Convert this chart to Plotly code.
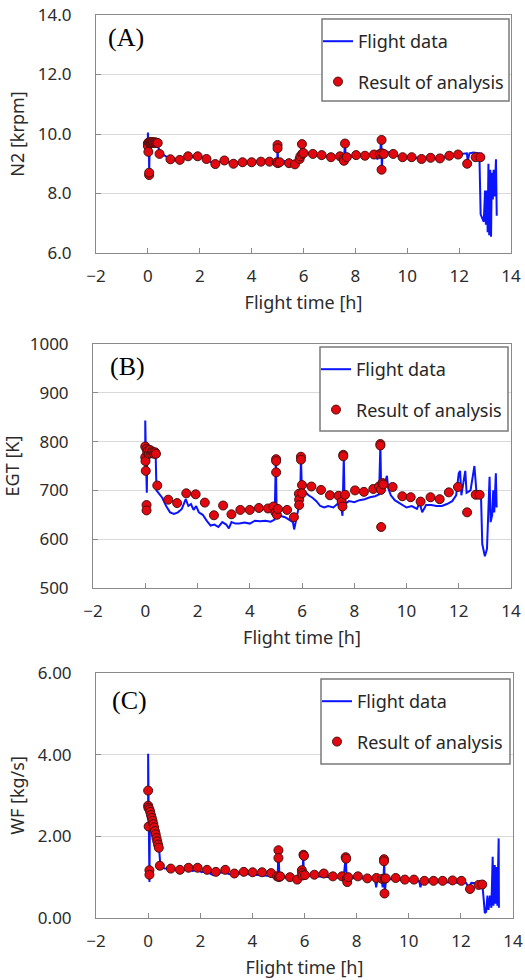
import plotly.graph_objects as go

W, H = 525, 980

# ---------------- Panel A: N2 ----------------
n2_t = [0.00, 0.00, 0.02, 0.04, 0.05, 0.07, 0.20, 0.35, 0.40, 0.50, 0.70, 0.87, 1.05, 1.22, 1.40,
        1.55, 1.75, 1.92, 2.10, 2.26, 2.45, 2.60, 2.80, 2.95, 3.10, 3.30, 3.50, 3.65, 3.85, 4.00,
        4.20, 4.36, 4.55, 4.70, 4.90, 4.99, 5.00, 5.02, 5.15, 5.30, 5.44, 5.60, 5.70, 5.80, 5.90,
        5.94, 5.97, 6.10, 6.36, 6.55, 6.72, 6.90, 7.07, 7.25, 7.42, 7.55, 7.60, 7.63, 7.80, 8.03,
        8.20, 8.38, 8.55, 8.73, 8.85, 8.95, 9.00, 9.02, 9.05, 9.20, 9.35, 9.47, 9.65, 9.83, 10.00,
        10.17, 10.35, 10.55, 10.75, 10.92, 11.10, 11.27, 11.45, 11.62, 11.80, 11.97, 12.15, 12.30, 12.33, 12.40,
        12.55, 12.70, 12.78, 12.83, 12.88, 12.95, 13.00, 13.03, 13.07, 13.10, 13.13, 13.16, 13.20, 13.23, 13.26,
        13.30, 13.33, 13.37, 13.42, 13.45]
n2_v = [9.60, 10.05, 9.70, 9.70, 8.62, 9.70, 9.72, 9.72, 9.55, 9.35, 9.25, 9.18, 9.15, 9.15, 9.20,
        9.25, 9.22, 9.25, 9.20, 9.15, 9.05, 9.00, 9.08, 9.10, 9.05, 9.02, 9.05, 9.05, 9.05, 9.06,
        9.07, 9.08, 9.08, 9.08, 9.08, 9.08, 9.60, 9.10, 9.12, 9.08, 9.05, 9.02, 8.98, 9.10, 9.25,
        9.65, 9.35, 9.38, 9.35, 9.32, 9.30, 9.25, 9.22, 9.25, 9.25, 9.10, 9.65, 9.20, 9.25, 9.28,
        9.28, 9.28, 9.30, 9.30, 9.15, 9.38, 9.80, 8.80, 9.40, 9.42, 9.35, 9.33, 9.25, 9.22, 9.22,
        9.20, 9.20, 9.15, 9.20, 9.20, 9.18, 9.18, 9.22, 9.27, 9.30, 9.32, 9.35, 9.35, 9.10, 9.35,
        9.38, 9.36, 9.35, 7.30, 7.20, 7.05, 8.10, 6.95, 8.10, 6.70, 9.00, 6.60, 8.80, 6.55, 8.70,
        7.80, 8.80, 7.90, 9.15, 7.25]

n2_res_t = [0.00, 0.00, 0.02, 0.03, 0.05, 0.05, 0.06, 0.09, 0.12, 0.15, 0.18, 0.21, 0.25, 0.29, 0.33,
            0.38, 0.45, 0.87, 1.23, 1.55, 1.92, 2.26, 2.60, 2.95, 3.30, 3.65, 4.00, 4.36, 4.69, 4.97,
            5.00, 5.00, 5.01, 5.08, 5.44, 5.67, 5.85, 5.88, 5.94, 5.95, 6.00, 6.36, 6.70, 7.06, 7.41,
            7.54, 7.56, 7.60, 7.67, 8.03, 8.37, 8.72, 8.95, 9.01, 9.01, 9.03, 9.10, 9.46, 9.82, 10.17,
            10.55, 10.90, 11.26, 11.62, 11.96, 12.31, 12.64, 12.82]
n2_res = [9.68, 9.60, 9.40, 9.72, 8.62, 8.70, 9.70, 9.72, 9.70, 9.73, 9.70, 9.72, 9.71, 9.72, 9.70,
          9.70, 9.33, 9.15, 9.13, 9.25, 9.25, 9.16, 8.99, 9.11, 9.00, 9.05, 9.05, 9.07, 9.07, 9.05,
          9.63, 9.52, 9.02, 9.05, 9.02, 8.98, 9.16, 9.25, 9.66, 9.33, 9.36, 9.33, 9.29, 9.22, 9.25,
          9.16, 9.10, 9.68, 9.22, 9.29, 9.27, 9.31, 9.33, 9.80, 8.80, 9.35, 9.33, 9.33, 9.22, 9.22,
          9.16, 9.20, 9.18, 9.27, 9.31, 9.00, 9.22, 9.22]

# ---------------- Panel B: EGT ----------------
egt_t = [0.00, 0.00, 0.03, 0.06, 0.08, 0.20, 0.35, 0.40, 0.43, 0.50, 0.65, 0.80, 0.95, 1.10, 1.25,
         1.40, 1.50, 1.55, 1.65, 1.75, 1.85, 1.95, 2.05, 2.20, 2.35, 2.50, 2.65, 2.80, 2.95, 3.10,
         3.20, 3.30, 3.45, 3.60, 3.80, 4.00, 4.20, 4.40, 4.60, 4.80, 4.95, 5.00, 5.03, 5.20, 5.35,
         5.50, 5.65, 5.70, 5.78, 5.85, 5.93, 5.96, 6.00, 6.10, 6.25, 6.40, 6.55, 6.70, 6.85, 7.00,
         7.20, 7.35, 7.50, 7.55, 7.60, 7.63, 7.80, 8.00, 8.20, 8.40, 8.60, 8.80, 8.95, 9.00, 9.03,
         9.15, 9.25, 9.30, 9.40, 9.55, 9.70, 9.85, 10.00, 10.20, 10.40, 10.50, 10.60, 10.75, 10.95, 11.15,
         11.35, 11.55, 11.75, 11.90, 12.00, 12.05, 12.10, 12.25, 12.30, 12.45, 12.60, 12.68, 12.85, 12.90, 12.95,
         13.00, 13.08, 13.12, 13.18, 13.22, 13.28, 13.32, 13.36, 13.42, 13.45]
egt_v = [775, 843, 760, 695, 780, 775, 780, 770, 700, 695, 685, 668, 655, 652, 655,
         662, 675, 682, 668, 672, 660, 668, 655, 650, 638, 628, 630, 625, 635, 630,
         622, 635, 632, 632, 634, 632, 638, 637, 638, 636, 640, 765, 650, 648, 645,
         640, 635, 620, 640, 660, 680, 770, 690, 698, 690, 685, 678, 668, 665, 668,
         665, 672, 665, 648, 770, 672, 678, 676, 680, 682, 686, 688, 692, 795, 700,
         710, 730, 705, 690, 680, 675, 670, 665, 668, 662, 675, 655, 670, 670, 668,
         668, 672, 678, 690, 735, 740, 690, 740, 695, 700, 750, 695, 693, 590, 580,
         565, 580, 640, 728, 635, 650, 700, 655, 735, 665]

egt_res_t = [0.00, 0.00, 0.01, 0.02, 0.05, 0.05, 0.05, 0.08, 0.11, 0.14, 0.18, 0.22, 0.26, 0.30, 0.34,
             0.38, 0.41, 0.46, 0.88, 1.22, 1.57, 1.93, 2.28, 2.63, 2.98, 3.30, 3.64, 4.00, 4.35, 4.70,
             4.91, 4.98, 5.01, 5.01, 5.01, 5.04, 5.08, 5.43, 5.69, 5.88, 5.89, 5.89, 5.96, 5.96, 6.00,
             6.00, 6.36, 6.73, 7.07, 7.40, 7.52, 7.55, 7.58, 7.58, 7.65, 8.03, 8.37, 8.73, 8.95, 9.00,
             9.00, 9.02, 9.03, 9.08, 9.11, 9.47, 9.84, 10.16, 10.54, 10.92, 11.27, 11.62, 11.97, 12.32, 12.65,
             12.80]
egt_res = [790, 768, 760, 740, 670, 659, 785, 778, 782, 775, 783, 776, 780, 778, 775,
           778, 775, 710, 681, 674, 694, 692, 675, 649, 669, 651, 660, 660, 664, 663,
           667, 655, 764, 760, 737, 650, 662, 660, 645, 693, 681, 670, 769, 763, 711,
           694, 708, 701, 690, 689, 677, 667, 773, 770, 691, 700, 697, 703, 708, 795,
           792, 701, 625, 715, 712, 707, 688, 686, 677, 686, 682, 696, 707, 655, 691,
           691]

# ---------------- Panel C: WF ----------------
wf_t = [0.00, 0.00, 0.02, 0.05, 0.07, 0.15, 0.25, 0.35, 0.42, 0.47, 0.60, 0.87, 1.00, 1.22, 1.40,
        1.55, 1.70, 1.92, 2.05, 2.20, 2.40, 2.50, 2.65, 2.95, 3.10, 3.30, 3.50, 3.70, 4.00, 4.20,
        4.40, 4.60, 4.80, 4.97, 5.00, 5.04, 5.20, 5.44, 5.60, 5.72, 5.85, 5.93, 5.95, 5.98, 6.20,
        6.40, 6.70, 7.00, 7.30, 7.50, 7.58, 7.62, 7.80, 8.05, 8.40, 8.70, 8.75, 8.80, 8.95, 9.00,
        9.03, 9.06, 9.08, 9.13, 9.50, 9.85, 10.20, 10.40, 10.45, 10.50, 10.80, 11.20, 11.60, 12.00, 12.20,
        12.30, 12.40, 12.60, 12.82, 12.87, 12.92, 12.97, 13.02, 13.06, 13.12, 13.17, 13.22, 13.25, 13.30, 13.33,
        13.37, 13.40, 13.45, 13.46]
wf_v = [2.70, 4.02, 2.70, 0.88, 2.60, 2.45, 2.20, 1.90, 1.70, 1.30, 1.22, 1.20, 1.18, 1.17, 1.18,
        1.20, 1.15, 1.18, 1.12, 1.15, 1.08, 1.05, 1.10, 1.12, 1.08, 1.07, 1.09, 1.08, 1.07, 1.06,
        1.05, 1.04, 1.02, 1.00, 1.66, 1.00, 1.00, 0.98, 0.96, 0.93, 1.02, 1.05, 1.55, 1.03, 1.04,
        1.02, 1.01, 1.00, 0.99, 0.98, 1.49, 0.97, 0.98, 0.98, 0.97, 0.95, 0.75, 0.96, 0.95, 0.75,
        0.95, 1.44, 0.60, 0.96, 0.94, 0.92, 0.91, 0.90, 0.75, 0.90, 0.89, 0.88, 0.88, 0.87, 0.86,
        0.75, 0.86, 0.85, 0.85, 0.50, 0.12, 0.15, 0.55, 0.20, 0.55, 0.25, 1.50, 0.30, 1.30, 0.35,
        1.25, 0.30, 1.95, 0.25]

wf_res_t = [0.00, 0.00, 0.01, 0.02, 0.05, 0.05, 0.05, 0.08, 0.11, 0.14, 0.17, 0.20, 0.23, 0.26, 0.29,
            0.32, 0.35, 0.38, 0.41, 0.45, 0.87, 1.22, 1.55, 1.90, 2.26, 2.60, 2.96, 3.31, 3.67, 4.01,
            4.37, 4.72, 4.95, 5.00, 5.00, 5.02, 5.07, 5.44, 5.72, 5.90, 5.91, 5.92, 5.96, 5.98, 6.02,
            6.38, 6.74, 7.09, 7.44, 7.58, 7.60, 7.62, 7.64, 7.68, 8.05, 8.41, 8.76, 8.98, 9.05, 9.05,
            9.07, 9.08, 9.12, 9.50, 9.85, 10.20, 10.60, 10.95, 11.30, 11.68, 12.02, 12.35, 12.68, 12.82]
wf_res = [3.12, 2.75, 2.70, 2.24, 1.17, 1.06, 2.66, 2.60, 2.52, 2.45, 2.38, 2.30, 2.22, 2.13, 2.05,
          1.96, 1.88, 1.80, 1.72, 1.28, 1.21, 1.18, 1.23, 1.23, 1.18, 1.13, 1.18, 1.09, 1.13, 1.12,
          1.12, 1.10, 1.02, 1.66, 1.47, 1.00, 1.02, 1.00, 0.94, 1.17, 1.10, 1.04, 1.55, 1.52, 1.05,
          1.06, 1.09, 1.02, 1.02, 1.49, 1.45, 0.96, 0.88, 1.00, 1.02, 0.97, 0.98, 0.96, 1.44, 1.39,
          0.60, 0.96, 0.97, 0.98, 0.94, 0.94, 0.91, 0.91, 0.91, 0.92, 0.91, 0.71, 0.81, 0.82]

x_ticks = [-2, 0, 2, 4, 6, 8, 10, 12, 14]

LINE_BLUE = "#0a14ff"
DOT_RED = "#e3070f"
TICK_FONT = dict(family="Noto Sans", size=17, color="#2b2b2b")
TITLE_FONT = dict(family="Noto Sans", size=18, color="#2b2b2b")


def px_x(v):
    return v / W


def px_y(v):
    return 1 - v / H


panels = [
    dict(t=n2_t, v=n2_v, rt=n2_res_t, rv=n2_res, ytitle="N2 [krpm]", yrange=[6, 14],
         yticks=[6, 8, 10, 12, 14], fmt=".1f", label="(A)",
         box=(96, 15, 511, 253), leg=(322, 19, 509, 101), lab=(106, 37)),
    dict(t=egt_t, v=egt_v, rt=egt_res_t, rv=egt_res, ytitle="EGT [K]", yrange=[500, 1000],
         yticks=[500, 600, 700, 800, 900, 1000], fmt="d", label="(B)",
         box=(93, 344, 511, 588), leg=(320, 347, 508, 431), lab=(108, 367)),
    dict(t=wf_t, v=wf_v, rt=wf_res_t, rv=wf_res, ytitle="WF [kg/s]", yrange=[0, 6],
         yticks=[0, 2, 4, 6], fmt=".2f", label="(C)",
         box=(96, 673, 513, 918), leg=(321, 679, 510, 764), lab=(110, 700)),
]

fig = go.Figure()
layout = dict(width=W, height=H, margin=dict(l=0, r=0, t=0, b=0),
              paper_bgcolor="white", plot_bgcolor="white", shapes=[], annotations=[])

for i, p in enumerate(panels, start=1):
    sfx = "" if i == 1 else str(i)
    leg_name = "legend" if i == 1 else f"legend{i}"
    xa, ya = f"x{sfx}", f"y{sfx}"

    fig.add_trace(go.Scatter(
        x=p["t"], y=p["v"], mode="lines", name="Flight data",
        line=dict(color=LINE_BLUE, width=2), xaxis=xa, yaxis=ya,
        legend=leg_name, legendgroup=f"fd{i}"))
    fig.add_trace(go.Scatter(
        x=p["rt"], y=p["rv"], mode="markers", name="Result of analysis",
        marker=dict(color=DOT_RED, size=9, line=dict(color="#4a1010", width=1)),
        xaxis=xa, yaxis=ya, legend=leg_name, legendgroup=f"ra{i}"))

    l, t, r, b = p["box"]
    layout[f"xaxis{sfx}"] = dict(
        domain=[px_x(l), px_x(r)], range=[-2, 14], tickvals=x_ticks,
        anchor=ya, showline=True, mirror=True, linecolor="#8a8a8a", linewidth=1,
        showgrid=False, zeroline=False, ticks="inside", ticklen=5, tickcolor="#8a8a8a",
        tickfont=TICK_FONT, ticklabelstandoff=8, automargin=False,
        title=dict(text="Flight time [h]", font=TITLE_FONT, standoff=9))
    layout[f"yaxis{sfx}"] = dict(
        domain=[px_y(b), px_y(t)], range=p["yrange"], tickvals=p["yticks"],
        tickformat=p["fmt"], anchor=xa, showline=True, mirror=True,
        linecolor="#8a8a8a", linewidth=1, showgrid=True, gridcolor="#d9d9d9",
        zeroline=False, ticks="inside", ticklen=5, tickcolor="#8a8a8a",
        tickfont=TICK_FONT, ticklabelstandoff=20, automargin=False,
        title=dict(text=p["ytitle"], font=TITLE_FONT, standoff=8))

    ll, lt, lr, lb = p["leg"]
    layout["shapes"].append(dict(
        type="rect", xref="paper", yref="paper",
        x0=px_x(ll), x1=px_x(lr), y0=px_y(lb), y1=px_y(lt),
        line=dict(color="#7a7a7a", width=1.5), fillcolor="white", layer="above"))
    layout[leg_name] = dict(
        x=px_x(ll - 4), xanchor="left", y=px_y(lt + 4), yanchor="top",
        bgcolor="rgba(0,0,0,0)", borderwidth=0, tracegroupgap=14,
        font=dict(family="Noto Sans", size=18, color="#262626"))

    lx, ly = p["lab"]
    layout["annotations"].append(dict(
        text=p["label"], xref="paper", yref="paper", x=px_x(lx), y=px_y(ly),
        xanchor="left", yanchor="middle", showarrow=False,
        font=dict(family="Liberation Serif", size=26, color="black")))

fig.update_layout(**layout)
fig.write_html("out.html")
